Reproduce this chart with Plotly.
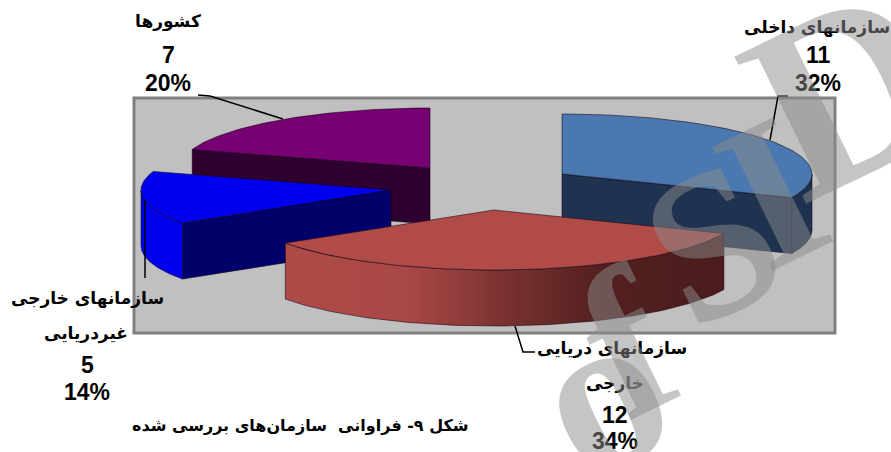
import numpy as np
import plotly.graph_objects as go

categories = ["سازمانهای داخلی", "سازمانهای دریایی<br> <br>خارجی", "سازمانهای خارجی<br> <br>غیردریایی", "کشورها"]
values = [11, 12, 5, 7]
percent_labels = ["32%", "34%", "14%", "20%"]
caption = "شکل ۹- فراوانی  سازمان‌های بررسی شده"
watermark_letters = ["o", "f", "S", "I", "D"]

W, H = 891, 452
A, B, T = 250, 60, 56
apex = [(562, 174), (494, 210), (391, 190), (430, 168)]
top_col = ["#4a78b0", "#b04b48", "#0000ee", "#770072"]
wall_col = ["#1f3350", "#4a1c1c", "#00006a", "#2e0030"]
side_col = ["#1f3350", None, "#0000ee", "#2e0030"]

fr = np.array(values, float) / sum(values)
ends = np.cumsum(fr) * 360
starts = ends - fr * 360

def pt(c, deg, dz=0):
    r = np.radians(deg)
    return c[0] + A * np.sin(r), c[1] - B * np.cos(r) + dz

def arc(c, a0, a1, dz=0):
    t = np.linspace(a0, a1, 80)
    return [pt(c, d, dz) for d in t]

fig = go.Figure()

def poly(points, color, gradient=None):
    xs = [p[0] for p in points] + [points[0][0]]
    ys = [p[1] for p in points] + [points[0][1]]
    kw = dict(fillgradient=gradient) if gradient else dict(fillcolor=color)
    fig.add_trace(go.Scatter(x=xs, y=ys, mode="lines", fill="toself",
                             line=dict(width=1, color="rgba(20,0,20,0.55)"),
                             hoverinfo="skip", showlegend=False, **kw))

red_grad = dict(type="horizontal", colorscale=[[0, "#ae4b48"], [0.28, "#a84846"], [0.5, "#7a3230"], [0.72, "#52201f"], [1, "#4a1c1c"]])

# edge of each wedge whose flat wall faces the viewer
wall_edge = [ends[0], None, starts[2], starts[3]]

for i in [3, 2, 0, 1]:
    c, s, e = apex[i], starts[i], ends[i]
    if wall_edge[i] is not None:
        poly([c, pt(c, wall_edge[i]), pt(c, wall_edge[i], T), (c[0], c[1] + T)], wall_col[i])
    lo, hi = max(s, 90), min(e, 270)
    if hi > lo:
        up = arc(c, lo, hi)
        down = arc(c, hi, lo, T)
        if i == 1:
            poly(up + down, None, red_grad)
        else:
            poly(up + down, side_col[i])
    poly([c] + arc(c, s, e), top_col[i])

shapes = [dict(type="rect", x0=134, y0=98, x1=835, y1=333, layer="below",
               fillcolor="#c0c0c0", line=dict(color="#808080", width=3))]

leaders = [[(788, 96), (778, 96), (770, 140)],
           [(515, 326), (523, 352), (535, 352)],
           [(145, 200), (145, 278)],
           [(198, 95), (210, 96), (283, 119)]]
for L in leaders:
    fig.add_trace(go.Scatter(x=[p[0] for p in L], y=[p[1] for p in L], mode="lines",
                             line=dict(color="black", width=1.5), hoverinfo="skip", showlegend=False))

ann = []
def label(x, y, t, size, family="DejaVu Sans"):
    ann.append(dict(x=x, y=y, text="<b>" + t + "</b>", showarrow=False, xref="x", yref="y",
                    xanchor="center", yanchor="middle",
                    font=dict(family=family, size=size, color="black")))

num = "Liberation Sans"
nameline = [[(817, 27)], [(612, 348), (615, 383)], [(87, 298), (86, 333)], [(168, 21)]]
numpos = [(818, 55, 83), (615, 415, 441), (87, 365, 392), (168, 55, 83)]
for i in range(4):
    parts = [p for p in categories[i].split("<br>") if p.strip()]
    for p, (x, y) in zip(parts, nameline[i]):
        label(x, y, p, 17)
    x, y1, y2 = numpos[i]
    label(x, y1, str(values[i]), 23, num)
    label(x, y2, percent_labels[i], 23, num)
label(300, 425, caption, 16)

wm_pos = [(600, 392), (627, 343), (712, 243), (772, 192), (846, 90)]
wm_size = [225, 210, 210, 210, 250]
for ch, (x, y), sz in zip(watermark_letters, wm_pos, wm_size):
    ann.append(dict(x=x, y=y, text="<b>" + ch + "</b>", textangle=-26, showarrow=False, xref="x", yref="y",
                    xanchor="center", yanchor="middle",
                    font=dict(family="Liberation Serif", size=sz, color="#8c8c8c"), opacity=0.5))

fig.update_layout(width=W, height=H, margin=dict(l=0, r=0, t=0, b=0), paper_bgcolor="white", plot_bgcolor="white",
                  xaxis=dict(range=[0, W], visible=False, fixedrange=True),
                  yaxis=dict(range=[H, 0], visible=False, fixedrange=True),
                  shapes=shapes, annotations=ann, showlegend=False)
fig.write_html("out.html", config={"displayModeBar": False},
               post_script="document.body.style.margin='0';document.body.style.overflow='hidden';")
